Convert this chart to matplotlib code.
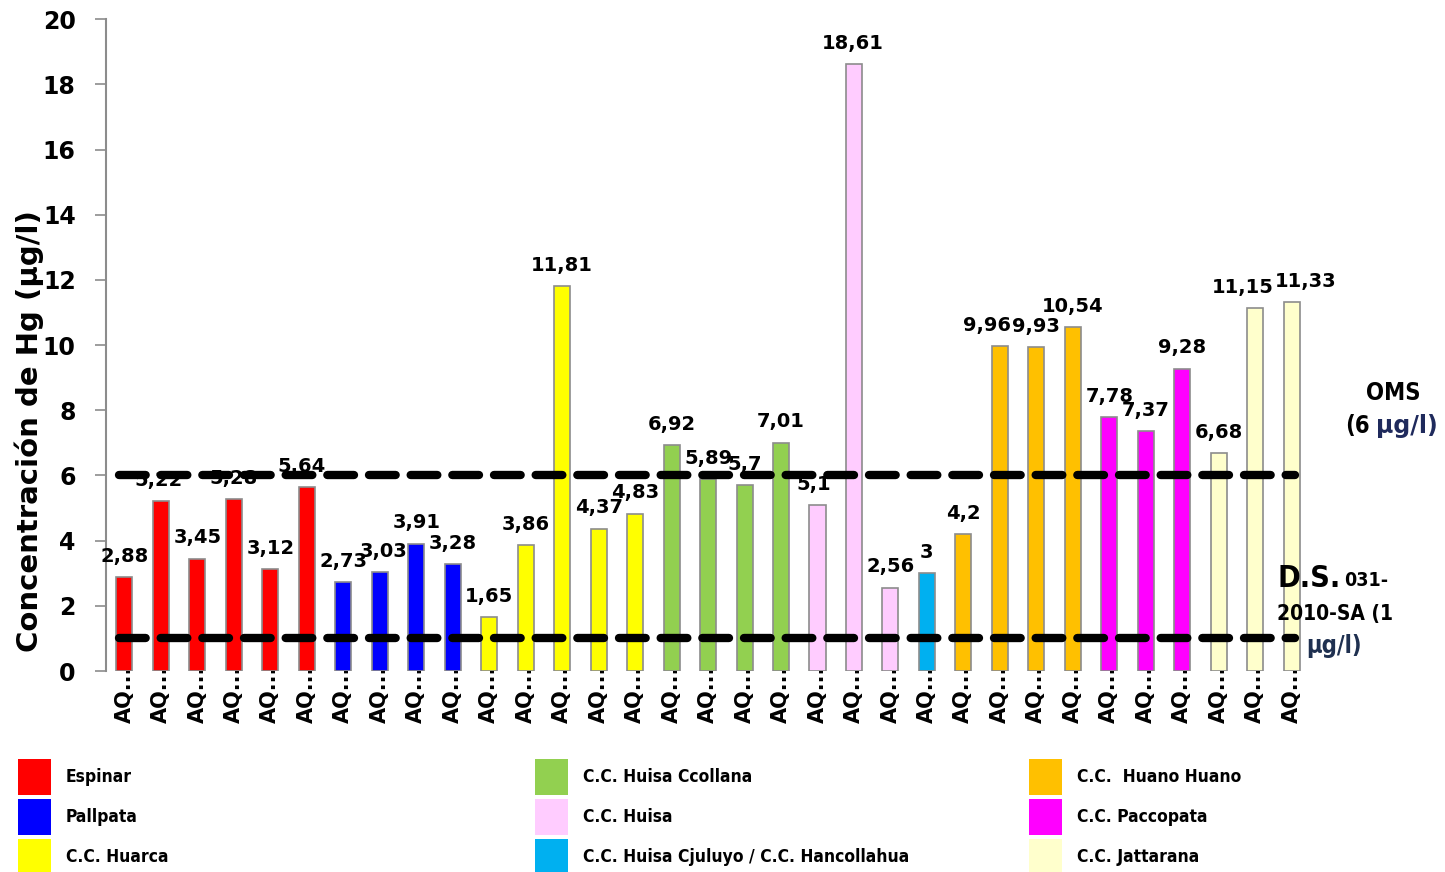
import matplotlib.pyplot as plt
from matplotlib.patches import Rectangle

# data
groups = ["Espinar", "Pallpata", "C.C. Huarca", "C.C. Huisa Ccollana", "C.C. Huisa",
          "C.C. Huisa Cjuluyo / C.C. Hancollahua", "C.C.  Huano Huano", "C.C. Paccopata",
          "C.C. Jattarana"]
group_colors = ["#FF0000", "#0000FF", "#FFFF00", "#92D050", "#FFCCFF",
                "#00B0F0", "#FFC000", "#FF00FF", "#FFFFCC"]
group_values = [
    [2.88, 5.22, 3.45, 5.28, 3.12, 5.64],
    [2.73, 3.03, 3.91, 3.28],
    [1.65, 3.86, 11.81, 4.37, 4.83],
    [6.92, 5.89, 5.7, 7.01],
    [5.1, 18.61, 2.56],
    [3.0],
    [4.2, 9.96, 9.93, 10.54],
    [7.78, 7.37, 9.28],
    [6.68, 11.15, 11.33],
]
oms_limit = 6
ds_limit = 1
yticks = [0, 2, 4, 6, 8, 10, 12, 14, 16, 18, 20]

values = []
colors = []
for vals, c in zip(group_values, group_colors):
    values += vals
    colors += [c] * len(vals)
labels = ["AQ..."] * len(values)
x = list(range(len(values)))

# condensed face to stand in for Arial Narrow
narrow = dict(family="DejaVu Sans", fontstretch="condensed")

fig = plt.figure(figsize=(14.45, 8.72), dpi=100)
ax = fig.add_axes([0.0735, 0.2305, 0.833, 0.7475])

ax.bar(x, values, width=0.44, color=colors, edgecolor="#8c8c8c", linewidth=1.2, zorder=2)

# a few labels are pushed sideways in the original so they don't collide
nudge = {1: -2, 5: -4, 7: 3, 24: -9, 31: -9, 32: 10, 19: -3, 20: -1}
for xi, v in zip(x, values):
    txt = f"{v:g}".replace(".", ",")
    ax.annotate(txt, (xi, v), xytext=(nudge.get(xi, 0), 8), textcoords="offset points",
                ha="center", va="bottom", fontsize=14, fontweight="bold")

for lim in (oms_limit, ds_limit):
    ax.plot([-0.15, 32.1], [lim, lim], color="black", lw=6, dashes=(3.2, 1.8),
            solid_capstyle="round", dash_capstyle="round", zorder=3)

ax.set_xlim(-0.5, len(values) - 0.5)
ax.set_ylim(0, 20)
ax.set_yticks(yticks)
ax.set_yticklabels([str(t) for t in yticks], fontsize=17, fontweight="bold")
ax.set_xticks(x)
ax.set_xticklabels(labels, rotation=90, fontsize=15, fontweight="bold")
ax.tick_params(axis="x", length=0, pad=-4)
ax.tick_params(axis="y", length=8, color="#8c8c8c", width=1.2, pad=14)
for s in ("top", "right", "bottom"):
    ax.spines[s].set_visible(False)
ax.spines["left"].set_color("#8c8c8c")
ax.spines["left"].set_linewidth(1.5)
ax.set_ylabel("Concentración de Hg (µg/l)", fontsize=21, fontweight="bold")
ax.yaxis.set_label_coords(-0.0515, 0.368)

# limit annotations on the right
fig.text(0.964, 0.549, "OMS", fontsize=17, fontweight="bold", ha="center", va="center", **narrow)
fig.text(0.931, 0.512, "(6", fontsize=17, fontweight="bold", ha="left", va="center", **narrow)
fig.text(0.9525, 0.512, "µg/l)", fontsize=17, fontweight="bold", color="#1F2A5C",
         ha="left", va="center")
fig.text(0.884, 0.337, "D.S.", fontsize=22, fontweight="bold", ha="left", va="center", **narrow)
fig.text(0.9305, 0.334, "031-", fontsize=14, fontweight="bold", ha="left", va="center", **narrow)
fig.text(0.884, 0.296, "2010-SA (1", fontsize=15, fontweight="bold", ha="left", va="center",
         **narrow)
fig.text(0.904, 0.259, "µg/l)", fontsize=17, fontweight="bold",
         color="#1F3050", ha="left", va="center", **narrow)

# legend drawn by hand, three columns filled top to bottom
col_x = [18, 535, 1029]
row_y = [777, 817, 857]
W, H = 1445, 872
for i, (name, c) in enumerate(zip(groups, group_colors)):
    cx = col_x[i // 3]
    cy = row_y[i % 3]
    fig.add_artist(Rectangle((cx / W, 1 - (cy + 18) / H), 33 / W, 36 / H,
                             transform=fig.transFigure, facecolor=c, edgecolor="none"))
    fig.text((cx + 48) / W, 1 - cy / H, name, fontsize=12.5,
             fontweight="bold", ha="left", va="center", **narrow)

fig.savefig("out.png", dpi=100)
